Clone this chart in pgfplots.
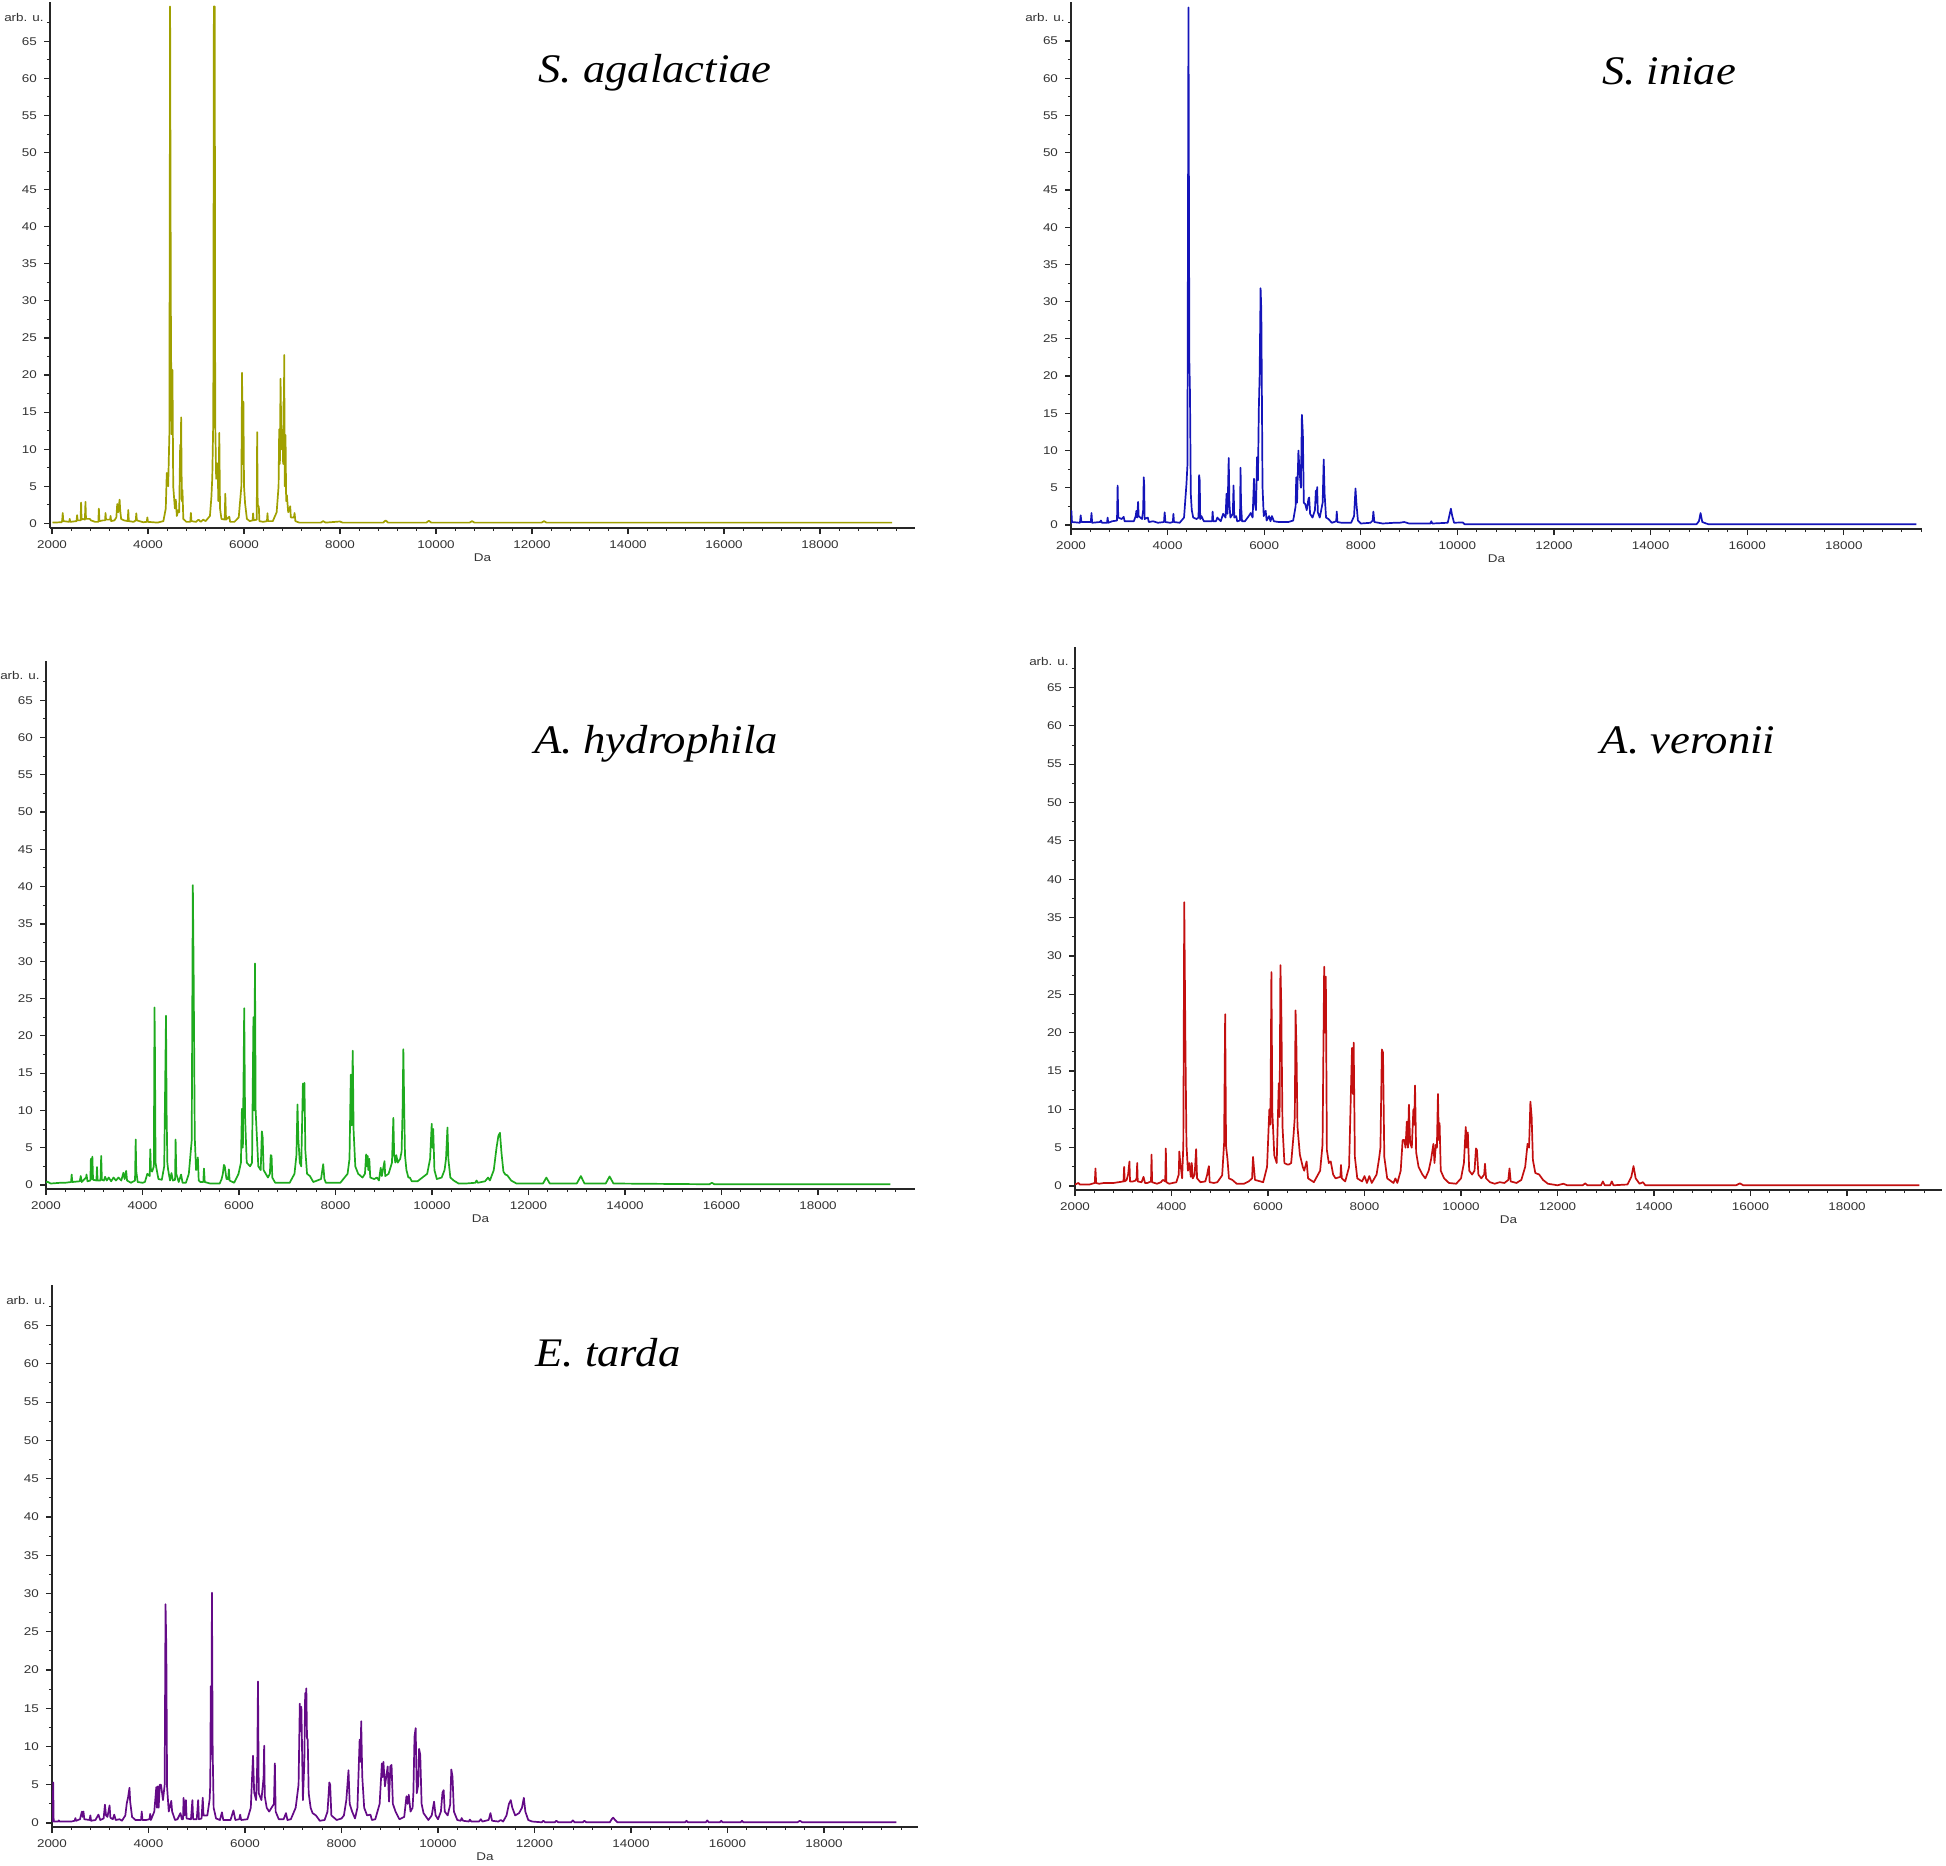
\documentclass[border=0pt]{standalone}
\usepackage{pgfplots}
\pgfplotsset{compat=1.18}
\usepackage{fontspec}
\setmainfont{Liberation Serif}
\newfontfamily\tickfamily[FakeStretch=1.2]{Liberation Sans}
\newcommand\tickfont{\tickfamily\fontsize{5.6}{6.5}\selectfont}
\newfontfamily\titlefamily[FakeStretch=1.1]{Liberation Serif}
\newcommand\titlefont{\titlefamily\itshape\fontsize{20.3}{23}\selectfont}
\definecolor{cOlive}{RGB}{160,160,0}
\definecolor{cBlue}{RGB}{20,20,185}
\definecolor{cGreen}{RGB}{30,170,30}
\definecolor{cRed}{RGB}{195,15,15}
\definecolor{cPurple}{RGB}{100,10,135}
\pgfplotsset{
  spec/.style={
    scale only axis,
    axis x line=bottom, axis y line=left,
    axis line style={-, line width=0.75pt, black!85},
    xtick={2000,4000,...,18000},
    minor xtick={2400,2800,...,19600},
    ytick={0,5,...,65},
    minor ytick={2.5,7.5,...,67.5},
    tick align=outside,
    major tick length=3pt, minor tick length=1.6pt,
    tick style={black!85, line width=0.6pt},
    minor tick style={black!85, line width=0.5pt},
    tick label style={font=\tickfont, text=black!80},
    /pgf/number format/assume math mode=true,
    /pgf/number format/1000 sep={},
    scaled x ticks=false,
    xlabel={Da}, xlabel style={font=\tickfont, text=black!80, yshift=4.5pt},
    clip mode=individual,
    anchor=south west,
  },
  spl/.style={line width=0.85pt, line join=round, mark=none},
}
\begin{document}
\begin{tikzpicture}
\path[use as bounding box] (0,0) rectangle (973pt,-932.5pt);

% ---------- S. agalactiae ----------
\begin{axis}[spec, name=p1, at={(25pt,-264pt)}, width=432.5pt, height=263pt,
  xmin=1958, xmax=19979, ymin=-0.63, ymax=70.3]
\addplot[spl, cOlive] coordinates {
(2010,0.1) (2200,0.15) (2212,0.4) (2223,1.4) (2235,0.3) (2360,0.2) (2369,0.6) (2380,0.2)
(2510,0.3) (2523,1.1) (2535,0.4) (2595,0.4) (2606,2.8) (2615,0.5) (2640,0.6) (2685,0.5)
(2697,2.9) (2708,0.6) (2760,0.6) (2788,0.6) (2810,0.4) (2900,0.2) (2965,0.2) (2976,2.0)
(2988,0.3) (3060,0.4) (3105,0.4) (3115,1.4) (3125,0.5) (3210,0.5) (3220,1.0) (3232,0.3)
(3300,0.4) (3340,0.8) (3359,2.6) (3380,1.5) (3408,3.2) (3420,1.8) (3440,0.6) (3500,0.4)
(3578,0.3) (3589,1.8) (3600,0.3) (3700,0.2) (3745,0.4) (3756,1.35) (3768,0.4) (3900,0.15)
(3975,0.2) (3986,0.8) (4000,0.2) (4200,0.1) (4320,0.3) (4370,2.0) (4391,6.8) (4420,5)
(4445,12) (4460,69.7) (4475,30) (4490,12) (4509,20.7) (4525,5) (4560,2) (4579,3.2)
(4600,1.0) (4635,1.8) (4650,1.5) (4670,10.6) (4680,6) (4690,14.3) (4705,3) (4718,4.5)
(4735,0.6) (4800,0.2) (4880,0.2) (4893,1.4) (4905,0.3) (5000,0.2) (5050,0.5) (5100,0.2)
(5150,0.5) (5200,0.3) (5290,1.0) (5320,3.5) (5339,6.2) (5360,14) (5372,69.7) (5390,69.7)
(5400,13.7) (5420,6) (5450,8.1) (5465,3) (5485,12.2) (5500,2) (5530,0.6) (5598,0.5)
(5610,4.0) (5625,0.5) (5694,0.9) (5710,0.2) (5800,0.2) (5890,0.8) (5924,3.4) (5945,5)
(5959,20.3) (5973,8) (5987,16.4) (6000,5) (6022,2.7) (6060,0.6) (6120,0.3) (6180,0.4)
(6189,1.35) (6200,0.4) (6265,0.5) (6274,12.3) (6285,2.5) (6309,2.2) (6320,0.3) (6400,0.2)
(6478,0.3) (6489,1.35) (6500,0.3) (6600,0.3) (6680,1.5) (6720,5) (6733,12.7) (6747,8)
(6761,19.5) (6780,10) (6800,12.6) (6815,8) (6823,16.4) (6830,12) (6837,22.7) (6850,5)
(6865,11.9) (6878,3) (6893,3.8) (6920,1.5) (6963,2.3) (6975,0.8) (7040,0.8) (7053,1.4)
(7070,0.3) (7150,0.1) (7600,0.1) (7650,0.3) (7700,0.1) (8000,0.25) (8050,0.1) (8900,0.1)
(8950,0.4) (9000,0.1) (9800,0.1) (9850,0.35) (9900,0.1) (10700,0.1) (10750,0.3) (10800,0.1)
(12200,0.1) (12250,0.3) (12300,0.1) (19500,0.1)
};
\end{axis}

% ---------- S. iniae ----------
\begin{axis}[spec, name=p2, at={(535.5pt,-264.5pt)}, width=425.5pt, height=263.5pt,
  xmin=2000, xmax=19619, ymin=-0.54, ymax=70.24]
\addplot[spl, cBlue] coordinates {
(2000,0.2) (2008,1.9) (2020,0.4) (2185,0.3) (2200,1.3) (2215,0.4) (2410,0.4) (2424,1.6)
(2438,0.3) (2600,0.4) (2620,0.6) (2640,0.3) (2745,0.3) (2758,1.0) (2770,0.3) (2850,0.5)
(2952,0.6) (2965,5.3) (2978,1.0) (3050,0.8) (3090,1.1) (3110,0.5) (3300,0.5) (3340,1.2)
(3353,1.9) (3370,1.0) (3389,3.1) (3400,1.2) (3470,0.8) (3494,2) (3506,6.4) (3514,5.5)
(3525,0.8) (3590,1.0) (3610,0.4) (3700,0.5) (3800,0.3) (3925,0.4) (3939,1.7) (3955,0.4)
(4050,0.3) (4108,0.4) (4120,1.5) (4132,0.4) (4250,0.3) (4340,1.0) (4390,5.5) (4410,8)
(4432,69.5) (4450,22) (4463,17.7) (4480,4.2) (4500,2) (4530,1.0) (4600,0.8) (4640,1.0)
(4652,6.7) (4665,6) (4675,0.8) (4700,1.2) (4750,0.5) (4850,0.5) (4920,0.5) (4932,1.8)
(4945,0.5) (5000,0.5) (5030,1.0) (5100,0.5) (5150,1.5) (5200,1.0) (5220,4.2) (5240,1.5)
(5265,9.0) (5280,2.8) (5300,1.0) (5350,1.5) (5365,5.3) (5380,1.0) (5420,1.2) (5440,0.5)
(5498,0.6) (5510,7.7) (5520,2.8) (5540,0.5) (5600,0.5) (5680,1.2) (5720,1.6) (5760,1.0)
(5788,6.2) (5805,3) (5830,2) (5851,9.1) (5870,6) (5888,15.5) (5905,20) (5925,31.8)
(5940,28.8) (5952,17.3) (5965,5.1) (5990,1.2) (6030,1.9) (6050,0.6) (6100,1.2) (6130,0.5)
(6160,1.2) (6200,0.5) (6300,0.4) (6500,0.4) (6600,0.6) (6650,2.5) (6663,6.4) (6680,3)
(6708,10.0) (6730,7.3) (6760,5) (6780,14.8) (6800,12.3) (6820,3) (6850,2.8) (6880,2.0)
(6916,3.5) (6930,3.7) (6950,1.5) (7000,1.0) (7050,2) (7069,4.6) (7085,3) (7096,5.1)
(7110,1.7) (7150,1.0) (7210,3) (7232,8.8) (7250,4.2) (7280,1.0) (7330,0.8) (7400,0.3)
(7490,0.5) (7502,1.8) (7515,0.4) (7600,0.3) (7800,0.3) (7860,1.2) (7890,4.9) (7910,2.8)
(7940,0.6) (8000,0.2) (8200,0.3) (8245,0.6) (8260,1.8) (8280,0.4) (8450,0.2) (8700,0.3)
(8800,0.3) (8900,0.4) (9000,0.2) (9440,0.2) (9459,0.5) (9480,0.2) (9800,0.3) (9865,2.2)
(9890,1.3) (9930,0.3) (10109,0.35) (10150,0.1) (14950,0.1) (15000,0.5) (15034,1.6)
(15070,0.4) (15150,0.2) (15200,0.1) (19500,0.1)
};
\end{axis}

% ---------- A. hydrophila ----------
\begin{axis}[spec, name=p3, at={(23pt,-594.5pt)}, width=434.5pt, height=264.2pt,
  xmin=2000, xmax=20010, ymin=-0.54, ymax=70.3]
\addplot[spl, cGreen] coordinates {
(2000,0.3) (2025,0.45) (2100,0.2) (2300,0.3) (2400,0.3) (2520,0.4) (2532,1.4) (2545,0.4)
(2700,0.5) (2720,1.2) (2740,0.4) (2830,1.0) (2840,1.4) (2860,0.5) (2920,0.6) (2930,3.5)
(2945,0.8) (2961,3.8) (2975,0.7) (3045,0.6) (3057,2.4) (3070,0.6) (3130,0.6) (3144,3.9)
(3158,0.7) (3200,0.6) (3225,1.1) (3260,0.6) (3300,1.0) (3350,0.5) (3400,1.0) (3450,0.6)
(3500,1.0) (3560,0.6) (3605,1.65) (3630,0.8) (3661,1.9) (3680,0.6) (3760,0.3) (3845,0.6)
(3859,6.1) (3870,1.9) (3900,0.4) (4000,0.3) (4050,0.4) (4100,1.5) (4150,1.2) (4161,4.8)
(4175,2.0) (4200,1.8) (4235,2.5) (4249,23.8) (4258,17.8) (4270,3) (4290,2.2) (4330,0.8)
(4400,0.7) (4450,2.5) (4487,22.7) (4500,9.5) (4515,3) (4530,2.1) (4570,0.6) (4600,1.6)
(4630,0.6) (4675,0.7) (4686,6.1) (4700,1.5) (4750,0.4) (4800,1.4) (4830,0.3) (4900,0.3)
(4960,1.5) (4996,4.2) (5020,6) (5043,40.2) (5059,29.1) (5083,6.4) (5110,2) (5147,3.7)
(5165,0.6) (5200,0.4) (5260,0.4) (5274,2.2) (5290,0.4) (5400,0.2) (5600,0.2) (5640,0.8)
(5665,1.5) (5687,2.7) (5705,2.5) (5740,0.8) (5775,0.8) (5790,2.1) (5805,0.6) (5900,0.3)
(5990,1.5) (6040,3) (6060,10.2) (6080,5) (6108,23.7) (6125,9.3) (6160,3) (6230,2.5)
(6270,3) (6299,22.5) (6315,10) (6331,29.7) (6345,9.9) (6400,2.5) (6450,2) (6474,7.2)
(6490,6.4) (6510,2) (6600,1.0) (6640,1.5) (6657,4.0) (6675,3.9) (6690,1.0) (6750,0.3)
(6900,0.3) (7050,0.3) (7150,1.5) (7190,4) (7212,10.8) (7230,6.1) (7260,3) (7290,2.5)
(7324,13.6) (7340,10) (7356,13.7) (7375,4.6) (7410,1.5) (7470,1.2) (7540,0.4) (7700,0.8)
(7745,2.8) (7770,0.8) (7800,0.3) (8000,0.3) (8100,0.3) (8250,1.5) (8290,3.5) (8317,14.8)
(8335,8) (8357,18.0) (8375,7.3) (8410,2.5) (8470,1.5) (8560,1.0) (8610,1.5) (8635,4.1)
(8650,2.5) (8667,3.9) (8680,2) (8700,3.5) (8720,1.0) (8800,0.8) (8860,1.0) (8900,0.6)
(8937,2.3) (8960,1.2) (9016,3.2) (9030,1.2) (9100,1.5) (9170,3) (9199,9.0) (9215,4.1)
(9240,3.0) (9260,4.0) (9290,3) (9340,3.5) (9370,4.5) (9390,10) (9406,18.2) (9425,9.8)
(9440,4) (9470,2) (9510,1.0) (9540,1.0) (9580,0.5) (9700,0.5) (9900,1.5) (9960,3.5)
(9994,8.2) (10010,5) (10025,7.5) (10050,2) (10100,0.8) (10200,1.0) (10260,2) (10290,3.5)
(10320,7.7) (10340,3.4) (10380,1.0) (10450,0.6) (10550,0.2) (10700,0.2) (10900,0.3)
(10923,0.6) (10950,0.3) (11100,0.5) (11162,1.0) (11200,0.6) (11280,2) (11337,5.0)
(11376,6.6) (11408,7.0) (11440,4.3) (11480,1.8) (11520,1.4) (11560,1.3) (11640,0.6)
(11750,0.2) (12000,0.2) (12300,0.2) (12370,1.0) (12440,0.2) (13000,0.2) (13085,1.2)
(13160,0.2) (13600,0.2) (13680,1.15) (13760,0.2) (15750,0.1) (15800,0.3) (15850,0.1)
(19500,0.1)
};
\end{axis}

% ---------- A. veronii ----------
\begin{axis}[spec, name=p4, at={(537.5pt,-595pt)}, width=433.5pt, height=271.6pt,
  xmin=2000, xmax=19969, ymin=-0.52, ymax=70.3]
\addplot[spl, cRed] coordinates {
(2000,0.2) (2070,0.4) (2100,0.2) (2300,0.2) (2410,0.4) (2424,2.3) (2438,0.4) (2500,0.3)
(2600,0.4) (2800,0.4) (2900,0.5) (3005,0.6) (3018,2.5) (3030,0.6) (3070,0.8) (3100,1.5)
(3128,3.2) (3140,0.6) (3200,0.6) (3250,0.7) (3276,1.0) (3289,3.0) (3300,0.6) (3380,0.5)
(3420,1.2) (3450,0.4) (3500,0.4) (3575,0.6) (3586,4.1) (3598,0.5) (3700,0.3) (3780,0.5)
(3820,0.8) (3870,0.6) (3882,4.9) (3894,0.5) (3950,0.3) (4100,0.5) (4150,1.5) (4162,4.5)
(4175,3.5) (4220,1) (4245,5.4) (4264,37.0) (4290,17.2) (4310,5.4) (4340,2) (4370,3.0)
(4400,1.2) (4420,3.0) (4440,1) (4480,1.5) (4510,4.8) (4530,1.0) (4600,0.5) (4700,0.6)
(4740,1.5) (4756,2.1) (4775,2.6) (4790,0.5) (4880,0.4) (4950,0.5) (5050,1.4) (5090,5.6)
(5112,22.4) (5130,5.2) (5160,3.5) (5190,1.0) (5260,0.8) (5350,0.3) (5500,0.3) (5600,0.6)
(5670,1.0) (5689,3.8) (5705,2.6) (5730,0.8) (5900,0.5) (5980,2.5) (6028,10.0) (6050,8)
(6070,27.9) (6090,9.6) (6130,4) (6180,3) (6223,13.4) (6240,9) (6257,28.8) (6275,23.5)
(6300,7.8) (6340,3) (6400,2.8) (6430,2.8) (6480,3) (6530,6.7) (6555,9) (6571,22.9)
(6590,17.8) (6610,7.8) (6660,4.1) (6720,2.5) (6750,2) (6800,3.2) (6830,1.0) (6950,0.5)
(7080,2) (7130,5.4) (7164,28.6) (7180,20) (7198,27.3) (7220,4.7) (7260,3) (7300,3.2)
(7350,1.5) (7400,1.0) (7500,1.2) (7512,2.75) (7530,1.0) (7600,0.6) (7680,2.5) (7741,18.0)
(7760,12) (7775,18.7) (7800,3.8) (7850,1.0) (7950,0.6) (8000,1.3) (8050,0.4) (8100,1.3)
(8150,0.4) (8250,1.5) (8300,3.5) (8330,5) (8360,17.8) (8383,17.4) (8410,3.8) (8470,1.0)
(8600,0.4) (8640,1.0) (8680,0.4) (8750,2) (8790,6.0) (8826,6.0) (8850,5) (8877,8.4)
(8900,5) (8920,10.6) (8945,5.6) (8980,5) (9013,10.0) (9030,8) (9047,13.1) (9070,4.4)
(9120,2.5) (9200,1.5) (9260,1.0) (9330,2) (9380,3.5) (9428,5.5) (9450,3) (9479,5.4)
(9500,5) (9522,12.0) (9540,6) (9556,8.2) (9580,2) (9650,1) (9750,0.4) (9900,0.3)
(10000,1.0) (10060,3) (10098,7.7) (10120,5) (10141,7.0) (10170,2) (10230,1.5) (10280,2)
(10310,4.9) (10330,4.7) (10360,1.5) (10420,1.0) (10480,1.5) (10497,2.9) (10520,1.0)
(10600,0.5) (10700,0.3) (10800,0.5) (10900,0.4) (10980,0.8) (11005,2.3) (11030,0.6)
(11150,0.4) (11250,0.8) (11330,2.5) (11379,5.5) (11410,5) (11438,11.0) (11464,9.0)
(11490,3.4) (11540,1.7) (11620,1.5) (11700,0.8) (11800,0.3) (12000,0.1) (12120,0.3)
(12200,0.1) (12520,0.1) (12575,0.35) (12620,0.1) (12900,0.1) (12940,0.6) (12980,0.1)
(13090,0.1) (13125,0.6) (13160,0.1) (13450,0.2) (13530,1.2) (13575,2.6) (13620,1.0)
(13700,0.3) (13770,0.5) (13820,0.1) (15700,0.1) (15780,0.35) (15850,0.1) (19500,0.1)
};
\end{axis}

% ---------- E. tarda ----------
\begin{axis}[spec, name=p5, at={(26pt,-913.5pt)}, width=433pt, height=271pt,
  xmin=2000, xmax=19948, ymin=-0.52, ymax=70.3]
\addplot[spl, cPurple] coordinates {
(2000,0.2) (2018,0.2) (2024,5.3) (2035,0.2) (2130,0.2) (2140,0.35) (2160,0.2) (2400,0.2)
(2470,0.3) (2485,0.65) (2500,0.3) (2580,0.5) (2620,1.5) (2635,0.8) (2652,1.5) (2670,0.5)
(2780,0.4) (2795,1.0) (2810,0.3) (2900,0.4) (2962,1.1) (3000,0.4) (3070,0.6) (3097,2.4)
(3120,1.0) (3150,0.8) (3193,2.3) (3210,0.7) (3260,0.5) (3290,1.1) (3320,0.4) (3400,0.5)
(3450,0.3) (3520,1.0) (3550,2.6) (3575,3.3) (3606,4.6) (3620,2.8) (3660,0.8) (3730,0.4)
(3800,0.4) (3845,0.4) (3860,1.5) (3875,0.4) (3950,0.4) (4020,0.5) (4035,1.2) (4050,0.4)
(4120,1.5) (4162,4.7) (4175,2) (4194,4.8) (4210,2) (4234,5.0) (4260,5.0) (4300,3)
(4335,5) (4353,28.6) (4369,23.0) (4385,4.7) (4420,1.5) (4472,2.9) (4490,1.5) (4550,0.4)
(4600,0.5) (4663,1.3) (4690,0.5) (4715,0.5) (4727,3.3) (4745,1.0) (4775,3.0) (4790,0.6)
(4880,0.5) (4910,3.0) (4925,0.5) (5000,0.5) (5029,3.0) (5045,0.5) (5100,0.6) (5124,3.3)
(5140,1.0) (5220,1.0) (5267,3.1) (5280,5) (5291,17.9) (5303,9) (5315,30.1) (5330,9.3)
(5350,2) (5400,0.6) (5480,0.4) (5522,1.4) (5550,0.4) (5700,0.4) (5760,1.65) (5800,0.4)
(5880,0.5) (5900,1.1) (5920,0.4) (6050,0.5) (6120,2) (6166,8.8) (6190,4) (6230,3)
(6255,8) (6269,18.5) (6285,3.9) (6340,3) (6374,5.2) (6385,6) (6397,10.1) (6410,3.5)
(6450,2) (6500,1.5) (6600,2.5) (6619,7.8) (6635,1.5) (6700,0.5) (6800,0.5) (6849,1.3)
(6880,0.4) (6950,0.5) (7050,2) (7110,5) (7136,15.6) (7150,12) (7168,15.2) (7200,3)
(7230,8) (7247,17.0) (7260,15) (7271,17.6) (7285,11.1) (7300,10.9) (7320,3.9) (7360,2)
(7400,1.3) (7470,1.0) (7550,0.3) (7650,0.4) (7710,1.5) (7748,5.3) (7765,5.0) (7790,1.0)
(7900,0.4) (8000,0.6) (8050,1.0) (8100,3) (8145,6.9) (8170,2.5) (8220,1.5) (8280,0.6)
(8330,2) (8376,10.9) (8395,8) (8408,13.3) (8430,6.1) (8470,2) (8530,1.0) (8600,1.1)
(8630,0.4) (8700,0.5) (8790,2.5) (8837,7.8) (8852,6) (8869,8.0) (8900,4.8) (8957,7.4)
(8985,2.8) (9012,7.4) (9037,7.6) (9065,2.5) (9120,1.5) (9200,0.5) (9300,0.8) (9346,3.5)
(9370,2.5) (9394,3.7) (9430,1.5) (9473,2.0) (9490,4) (9513,11.3) (9537,12.4) (9560,3.9)
(9590,5) (9608,9.7) (9632,8.9) (9660,2.5) (9700,1.3) (9800,0.4) (9870,1.0) (9918,2.8)
(9950,1.0) (10000,0.5) (10060,1.5) (10093,4.0) (10117,4.3) (10140,1.5) (10200,1.0)
(10252,2.4) (10276,7.0) (10300,6.1) (10330,1.5) (10400,0.4) (10470,0.3) (10490,0.65)
(10520,0.3) (10640,0.2) (10660,0.45) (10690,0.2) (10850,0.2) (10888,0.5) (10920,0.2)
(11050,0.4) (11087,1.3) (11120,0.3) (11250,0.2) (11300,0.4) (11350,0.2) (11420,1.0)
(11470,2.5) (11508,3.0) (11540,2.0) (11600,1.0) (11680,1.3) (11740,2) (11779,3.3)
(11810,1.5) (11870,0.4) (11950,0.2) (12150,0.1) (12184,0.3) (12220,0.1) (12420,0.1)
(12454,0.3) (12490,0.1) (12760,0.1) (12796,0.35) (12830,0.1) (13000,0.1) (13035,0.3)
(13070,0.1) (13560,0.1) (13600,0.5) (13631,0.7) (13670,0.4) (13720,0.1) (15120,0.1)
(15150,0.3) (15180,0.1) (15550,0.1) (15580,0.35) (15610,0.1) (15840,0.1) (15870,0.3)
(15900,0.1) (16270,0.1) (16300,0.3) (16330,0.1) (17450,0.1) (17500,0.3) (17550,0.1)
(19500,0.1)
};
\end{axis}

% axis unit labels
\foreach \p in {p1,p2,p3,p4,p5}{
  \node[anchor=east, font=\tickfont, text=black!80, inner sep=0pt]
    at ([xshift=-3pt,yshift=-7.5pt]\p.north west) {arb. u.};
}
% species titles
\node[font=\titlefont] at (327.5pt,-36.5pt) {S. agalactiae};
\node[font=\titlefont] at (834.5pt,-35.5pt) {S. iniae};
\node[font=\titlefont] at (328pt,-372pt) {A. hydrophila};
\node[font=\titlefont] at (844pt,-370pt) {A. veronii};
\node[font=\titlefont] at (304pt,-676.5pt) {E. tarda};
\end{tikzpicture}
\end{document}
